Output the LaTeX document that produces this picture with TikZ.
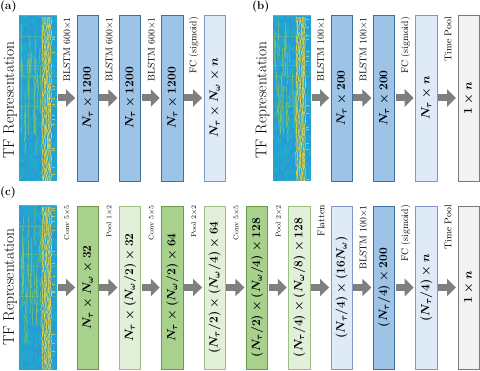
\documentclass[tikz,border=0pt]{standalone}
\usetikzlibrary{arrows.meta,decorations.pathmorphing}
\definecolor{blstmfill}{HTML}{9DC3E6}
\definecolor{blstmline}{HTML}{41719C}
\definecolor{fcfill}{HTML}{DEEBF7}
\definecolor{fcline}{HTML}{7F98C8}
\definecolor{cvfill}{HTML}{A9D18E}
\definecolor{cvline}{HTML}{6B9A4A}
\definecolor{plfill}{HTML}{E2F0D9}
\definecolor{plline}{HTML}{9CC083}
\definecolor{tpfill}{HTML}{F2F2F2}
\definecolor{tpline}{HTML}{7A7A7A}
\definecolor{arrowgray}{HTML}{7F7F7F}
\definecolor{spbase}{HTML}{2A8EE0}
\definecolor{spteal}{HTML}{22AEC8}
\definecolor{spgreen}{HTML}{8CC85A}
\definecolor{spyellow}{HTML}{F2D23A}

\newcommand{\drawspec}[5]{%
\begin{scope}
\clip (#1,#2) rectangle ++(#3,#4);
\fill[spteal] (#1,#2) rectangle ++(#3,#4);
\pgfmathsetseed{#5}
\foreach \i in {0,...,18}{%
  \foreach \j in {0,...,41}{%
    \pgfmathsetmacro\mx{int(75*rnd)}
    \fill[spbase!\mx!spteal] (#1+2*\i,#2+4*\j) rectangle ++(2,4);
  }
}
\fill[black!35, opacity=0.6] (#1,#2) rectangle ++(#3,1.5);
\foreach \k in {1,...,30}{%
  \pgfmathsetmacro\xa{#1+0.04*#3+0.6*rnd*#3}
  \pgfmathsetmacro\ya{#2+rnd*0.6*#4}
  \pgfmathsetmacro\la{10+40*rnd}
  \draw[spgreen, line width=0.55pt, opacity=0.9, decorate, decoration={random steps, segment length=3pt, amplitude=0.6pt}] (\xa,\ya) -- ++(0,\la);
}
\foreach \f in {0.62,0.66,0.70,0.735,0.77,0.80,0.84}{%
  \draw[spyellow, line width=0.65pt, decorate, decoration={random steps, segment length=3pt, amplitude=0.8pt}] (#1+\f*#3,#2+2) -- ++(0,#4);
}
\foreach \k in {1,...,14}{%
  \pgfmathsetmacro\ya{#2+rnd*#4}
  \draw[spyellow!80!spgreen, line width=0.5pt, opacity=0.8] (#1+0.86*#3,\ya) -- ++(3,0);
}
\foreach \f in {0.13,0.3,0.37,0.55}{%
  \draw[spgreen, line width=0.4pt, opacity=0.4] (#1,#2+\f*#4) -- ++(#3,0);
}
\end{scope}}

\tikzset{
  lyr/.style={rotate=90, minimum width=166pt, minimum height=21.5pt, inner sep=0pt,
    line width=0.8pt, font=\fontsize{12.5}{14}\selectfont\boldmath},
  lyrc/.style={lyr, minimum width=163pt},
  blstm/.style={draw=blstmline, fill=blstmfill},
  fcl/.style={draw=fcline, fill=fcfill},
  cvl/.style={draw=cvline, fill=cvfill},
  pll/.style={draw=plline, fill=plfill},
  tpl/.style={draw=tpline, fill=tpfill, line width=0.9pt},
  conn/.style={draw=arrowgray, line width=7pt, -{Triangle[width=17pt,length=9pt]},
    shorten <=0.5pt, shorten >=1.5pt},
  oplab/.style={rotate=90, anchor=east, inner sep=0pt, font=\fontsize{9.7}{11}\selectfont},
  oplabs/.style={oplab, font=\fontsize{7}{8}\selectfont},
  tflab/.style={rotate=90, inner sep=0pt, font=\fontsize{15.5}{17}\selectfont},
  panel/.style={anchor=north west, inner sep=0pt, font=\fontsize{11.5}{13}\selectfont\bfseries},
  specnode/.style={minimum width=38pt, inner sep=0pt}
}

\begin{document}
\begin{tikzpicture}[x=1pt, y=-1pt]
\useasboundingbox (0,0) rectangle (480,371);

% ---------- (a) ----------
\node[panel] (pa) at (0,1) {(a)};
\drawspec{19}{15}{38}{166}{11}
\node[specnode, minimum height=166pt] (sa) at (38,98) {};
\node[tflab] (ta) at (10,100) {TF Representation};
\node[lyr, blstm] (a1) at (87.75,98) {$N_\tau\times1200$};
\node[lyr, blstm] (a2) at (130.08,98) {$N_\tau\times1200$};
\node[lyr, blstm] (a3) at (172.41,98) {$N_\tau\times1200$};
\node[lyr, fcl] (a4) at (214.74,98) {$N_\tau\times N_\omega\times n$};
\draw[conn] (sa.east) -- (a1.north);
\draw[conn] (a1.south) -- (a2.north);
\draw[conn] (a2.south) -- (a3.north);
\draw[conn] (a3.south) -- (a4.north);
\node[oplab] (la1) at (67,17) {BLSTM 600$\times$1};
\node[oplab] (la2) at (109.33,17) {BLSTM 600$\times$1};
\node[oplab] (la3) at (151.66,17) {BLSTM 600$\times$1};
\node[oplab] (la4) at (193.99,17) {FC (sigmoid)};

% ---------- (b) ----------
\node[panel] (pb) at (252,1) {(b)};
\drawspec{273}{15}{38}{166}{23}
\node[specnode, minimum height=166pt] (sb) at (292,98) {};
\node[tflab] (tb) at (262.5,100) {TF Representation};
\node[lyr, blstm] (b1) at (341.73,98) {$N_\tau\times200$};
\node[lyr, blstm] (b2) at (384.06,98) {$N_\tau\times200$};
\node[lyr, fcl] (b3) at (426.39,98) {$N_\tau\times n$};
\node[lyr, tpl] (b4) at (468.72,98) {$1\times n$};
\draw[conn] (sb.east) -- (b1.north);
\draw[conn] (b1.south) -- (b2.north);
\draw[conn] (b2.south) -- (b3.north);
\draw[conn] (b3.south) -- (b4.north);
\node[oplab] (lb1) at (320.98,17) {BLSTM 100$\times$1};
\node[oplab] (lb2) at (363.31,17) {BLSTM 100$\times$1};
\node[oplab] (lb3) at (405.64,17) {FC (sigmoid)};
\node[oplab] (lb4) at (447.97,17) {Time Pool};

% ---------- (c) ----------
\node[panel] (pc) at (0,187) {(c)};
\drawspec{19}{205}{38}{165}{37}
\node[specnode, minimum height=165pt] (sc) at (38,287.5) {};
\node[tflab] (tc) at (10,287) {TF Representation};
\node[lyrc, cvl] (c1) at (87.75,287.5) {$N_\tau\times N_\omega\times 32$};
\node[lyrc, pll] (c2) at (130.08,287.5) {$N_\tau\times (N_\omega/2)\times 32$};
\node[lyrc, cvl] (c3) at (172.41,287.5) {$N_\tau\times (N_\omega/2)\times 64$};
\node[lyrc, pll] (c4) at (214.74,287.5) {$(N_\tau/2)\times (N_\omega/4)\times 64$};
\node[lyrc, cvl] (c5) at (257.07,287.5) {$(N_\tau/2)\times (N_\omega/4)\times 128$};
\node[lyrc, pll] (c6) at (299.40,287.5) {$(N_\tau/4)\times (N_\omega/8)\times 128$};
\node[lyrc, fcl] (c7) at (341.73,287.5) {$(N_\tau/4)\times (16N_\omega)$};
\node[lyrc, blstm] (c8) at (384.06,287.5) {$(N_\tau/4)\times 200$};
\node[lyrc, fcl] (c9) at (426.39,287.5) {$(N_\tau/4)\times n$};
\node[lyrc, tpl] (c10) at (468.72,287.5) {$1\times n$};
\draw[conn] (sc.east) -- (c1.north);
\draw[conn] (c1.south) -- (c2.north);
\draw[conn] (c2.south) -- (c3.north);
\draw[conn] (c3.south) -- (c4.north);
\draw[conn] (c4.south) -- (c5.north);
\draw[conn] (c5.south) -- (c6.north);
\draw[conn] (c6.south) -- (c7.north);
\draw[conn] (c7.south) -- (c8.north);
\draw[conn] (c8.south) -- (c9.north);
\draw[conn] (c9.south) -- (c10.north);
\node[oplabs] (lc1) at (67,205) {Conv 5$\times$5};
\node[oplabs] (lc2) at (109.33,205) {Pool 1$\times$2};
\node[oplabs] (lc3) at (151.66,205) {Conv 5$\times$5};
\node[oplabs] (lc4) at (193.99,205) {Pool 2$\times$2};
\node[oplabs] (lc5) at (236.32,205) {Conv 5$\times$5};
\node[oplabs] (lc6) at (278.65,205) {Pool 2$\times$2};
\node[oplab] (lc7) at (320.98,205) {Flatten};
\node[oplab] (lc8) at (363.31,205) {BLSTM 100$\times$1};
\node[oplab] (lc9) at (405.64,205) {FC (sigmoid)};
\node[oplab] (lc10) at (447.97,205) {Time Pool};
\end{tikzpicture}
\end{document}
